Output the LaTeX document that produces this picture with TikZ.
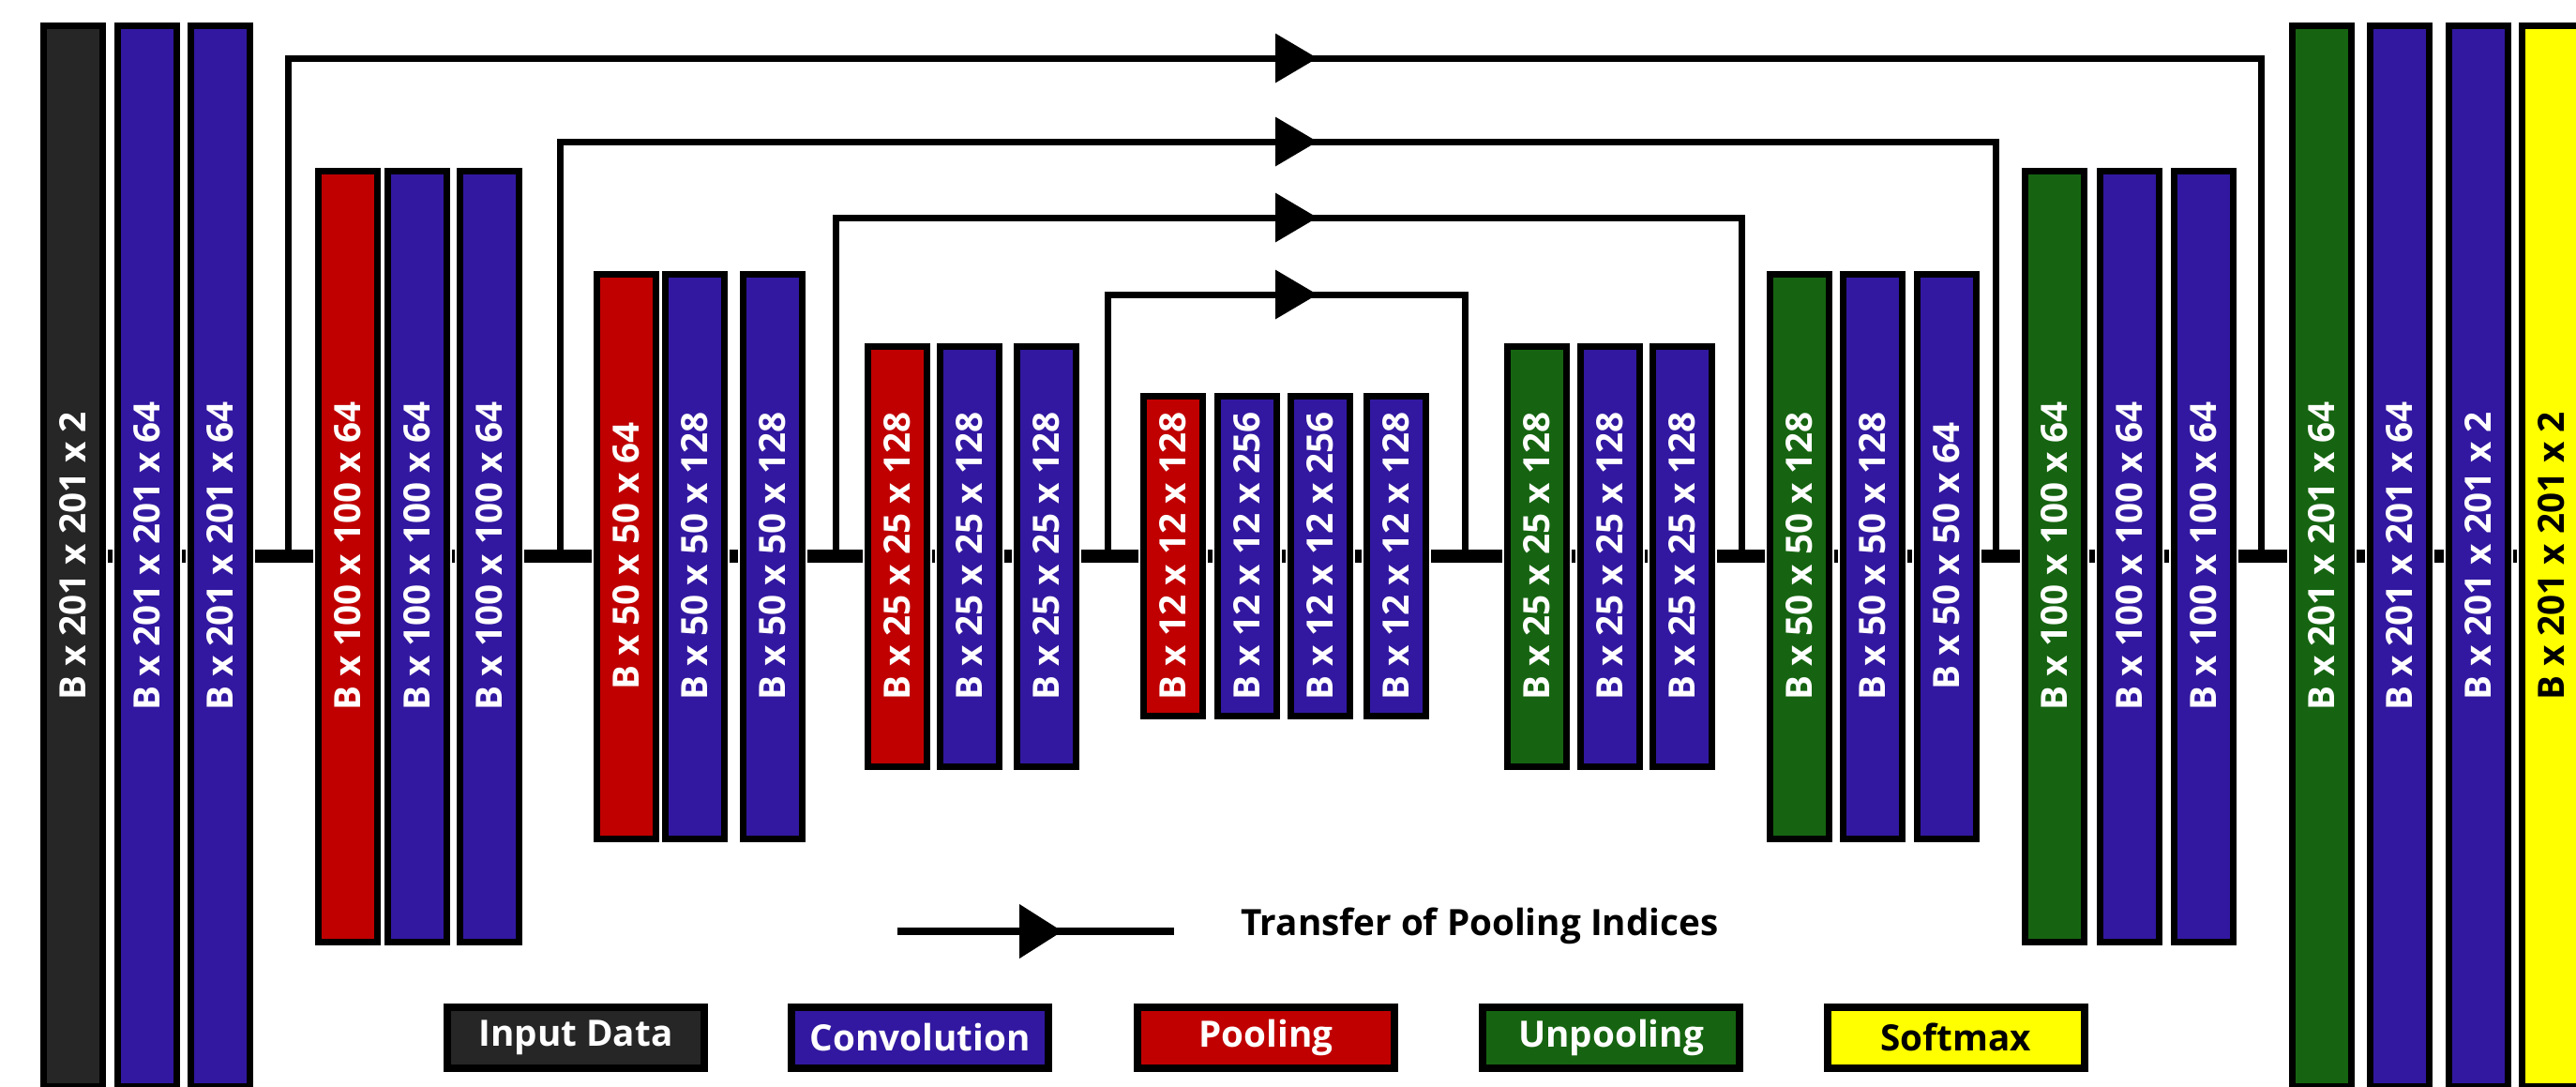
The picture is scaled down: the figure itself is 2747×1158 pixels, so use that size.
\documentclass[tikz,border=0pt]{standalone}
\usepackage{fontspec}
\setmainfont{Open Sans}
\usepackage{xcolor}
\usetikzlibrary{arrows.meta,backgrounds}

\definecolor{inputgray}{RGB}{38,38,38}
\definecolor{convblue}{RGB}{50,24,160}
\definecolor{poolred}{RGB}{192,0,0}
\definecolor{unpoolgreen}{RGB}{22,100,17}
\definecolor{softyellow}{RGB}{255,255,0}

\begin{document}
\begin{tikzpicture}[x=0.1mm, y=-0.1mm,
        layer/.style = {draw, line width=0.7mm, rotate=90, minimum height=6.3mm, inner sep=0pt,
            text=white, font=\bfseries\fontsize{11}{13}\selectfont,
            preaction={draw=white, line width=1.1mm}},
        input/.style = {layer, fill=inputgray},
        conv/.style = {layer, fill=convblue},
        pool/.style = {layer, fill=poolred},
        unpool/.style = {layer, fill=unpoolgreen},
        soft/.style = {layer, fill=softyellow, text=black},
        tall/.style = {minimum width=113.1mm},
        big/.style = {minimum width=82.2mm},
        mid/.style = {minimum width=60.2mm},
        small/.style = {minimum width=44.8mm},
        tiny/.style = {minimum width=34.1mm},
        legend/.style = {draw, line width=0.8mm, minimum width=27.4mm, minimum height=6.5mm, inner sep=0pt,
            text=white, font=\bfseries\fontsize{11}{13}\selectfont},
        trunk/.style = {line width=1.4mm},
        transfer/.style = {line width=0.7mm},
        pointer/.style = {-{Triangle[length=4.5mm, width=5.1mm]}}]
        \useasboundingbox (0,0) rectangle (2747,1158);

        % encoder
        \node[input, tall] (1) at (78,593) {B x 201 x 201 x 2};
        \node[conv, tall] (2) at (157,593) {B x 201 x 201 x 64};
        \node[conv, tall] (3) at (235,593) {B x 201 x 201 x 64};
        \node[pool, big] (4) at (371,593) {B x 100 x 100 x 64};
        \node[conv, big] (5) at (445,593) {B x 100 x 100 x 64};
        \node[conv, big] (6) at (522,593) {B x 100 x 100 x 64};
        \node[pool, mid] (7) at (668,593) {B x 50 x 50 x 64};
        \node[conv, mid] (8) at (741,593) {B x 50 x 50 x 128};
        \node[conv, mid] (9) at (824,593) {B x 50 x 50 x 128};
        \node[pool, small] (10) at (957,593) {B x 25 x 25 x 128};
        \node[conv, small] (11) at (1034,593) {B x 25 x 25 x 128};
        \node[conv, small] (12) at (1116,593) {B x 25 x 25 x 128};
        \node[pool, tiny] (13) at (1251,593) {B x 12 x 12 x 128};
        \node[conv, tiny] (14) at (1330,593) {B x 12 x 12 x 256};
        \node[conv, tiny] (15) at (1408,593) {B x 12 x 12 x 256};
        \node[conv, tiny] (16) at (1489,593) {B x 12 x 12 x 128};

        % decoder
        \node[unpool, small] (17) at (1639,593) {B x 25 x 25 x 128};
        \node[conv, small] (18) at (1717,593) {B x 25 x 25 x 128};
        \node[conv, small] (19) at (1794,593) {B x 25 x 25 x 128};
        \node[unpool, mid] (20) at (1919,593) {B x 50 x 50 x 128};
        \node[conv, mid] (21) at (1997,593) {B x 50 x 50 x 128};
        \node[conv, mid] (22) at (2076,593) {B x 50 x 50 x 64};
        \node[unpool, big] (23) at (2191,593) {B x 100 x 100 x 64};
        \node[conv, big] (24) at (2271,593) {B x 100 x 100 x 64};
        \node[conv, big] (25) at (2350,593) {B x 100 x 100 x 64};
        \node[unpool, tall] (26) at (2476,593) {B x 201 x 201 x 64};
        \node[conv, tall] (27) at (2559,593) {B x 201 x 201 x 64};
        \node[conv, tall] (28) at (2643,593) {B x 201 x 201 x 2};
        \node[soft, tall] (29) at (2721,593) {B x 201 x 201 x 2};

        \begin{scope}[on background layer]
            \draw[trunk] (1) -- (29);
        \end{scope}

        % pooling indices
        \coordinate (s1) at (307,593);
        \coordinate (m1) at (1405,62);
        \coordinate (t1) at (2411,593);
        \coordinate (s2) at (597,593);
        \coordinate (m2) at (1405,151);
        \coordinate (t2) at (2128,593);
        \coordinate (s3) at (891,593);
        \coordinate (m3) at (1405,232);
        \coordinate (t3) at (1857,593);
        \coordinate (s4) at (1181,593);
        \coordinate (m4) at (1405,314);
        \coordinate (t4) at (1562,593);
        \draw[transfer, pointer] (s1) |- (m1);
        \draw[transfer] ([xshift=-3mm]m1) -| (t1);
        \draw[transfer, pointer] (s2) |- (m2);
        \draw[transfer] ([xshift=-3mm]m2) -| (t2);
        \draw[transfer, pointer] (s3) |- (m3);
        \draw[transfer] ([xshift=-3mm]m3) -| (t3);
        \draw[transfer, pointer] (s4) |- (m4);
        \draw[transfer] ([xshift=-3mm]m4) -| (t4);

        % legend
        \coordinate (a1) at (957,993);
        \coordinate (a2) at (1133,993);
        \coordinate (a3) at (1252,993);
        \draw[line width=0.8mm, -{Triangle[length=4.6mm, width=5.6mm]}] (a1) -- (a2);
        \draw[line width=0.8mm] ([xshift=-3mm]a2) -- (a3);
        \node[font=\bfseries\fontsize{11}{13}\selectfont] (key) at (1578,987) {Transfer of Pooling Indices};

        \node[legend, fill=inputgray] (l1) at (614,1106) {Input Data};
        \node[legend, fill=convblue] (l2) at (981,1106) {Convolution};
        \node[legend, fill=poolred] (l3) at (1350,1106) {Pooling};
        \node[legend, fill=unpoolgreen] (l4) at (1718,1106) {Unpooling};
        \node[legend, fill=softyellow, text=black] (l5) at (2086,1106) {Softmax};

    \end{tikzpicture}
\end{document}
